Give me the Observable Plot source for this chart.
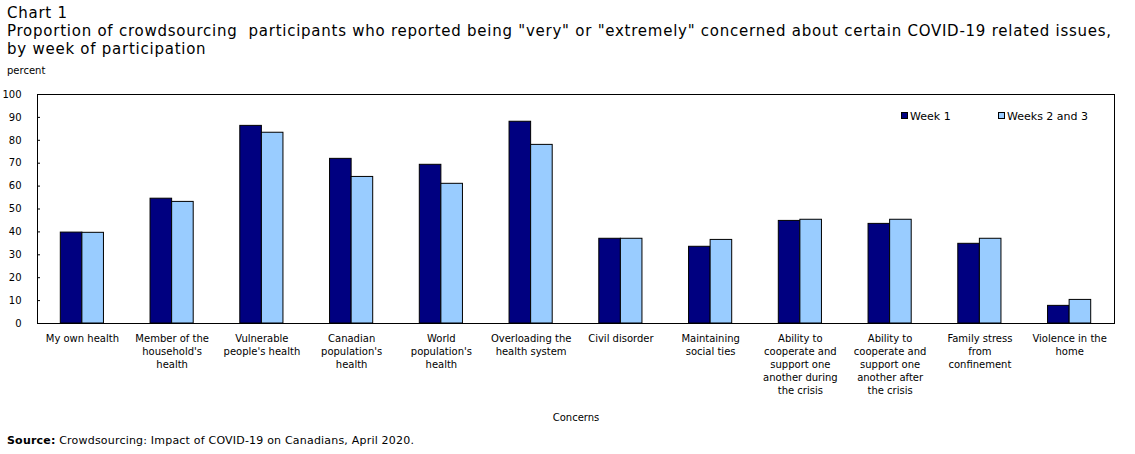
<!DOCTYPE html>
<html>
<head>
<meta charset="utf-8">
<script src="https://cdn.jsdelivr.net/npm/d3@7"></script>
<script src="https://cdn.jsdelivr.net/npm/@observablehq/plot@0.6"></script>
<style>
  body { margin: 0; background: #fff; font-family: "DejaVu Sans", Verdana, sans-serif; color: #000; }
  #wrap { position: relative; width: 1135px; height: 454px; overflow: hidden; }
  .title { position: absolute; left: 7px; top: 4px; font-size: 15px; letter-spacing: 0.75px; line-height: 18px; white-space: pre; }
  .unit { position: absolute; left: 7px; top: 65px; font-size: 10px; }
  #chart { position: absolute; left: 0; top: 80px; }
  .legend { position: absolute; top: 111px; font-size: 11px; line-height: 12px; white-space: nowrap; }
  .legend .sw { display: inline-block; width: 5px; height: 5px; border: 1px solid #000; margin-right: 2px; vertical-align: 1px; }
  .source { position: absolute; left: 7px; top: 434px; font-size: 11px; letter-spacing: 0.2px; }
</style>
</head>
<body>
<div id="wrap">
  <div class="title">Chart 1
Proportion of crowdsourcing  participants who reported being "very" or "extremely" concerned about certain COVID-19 related issues,
by week of participation</div>
  <div class="unit">percent</div>
  <div id="chart"></div>
  <div id="legend"></div>
  <div class="source"><b>Source:</b> Crowdsourcing: Impact of COVID-19 on Canadians, April 2020.</div>
</div>
<script>
// Concerns, in chart order, and their wrapped axis labels
const categories = [
  "My own health",
  "Member of the household's health",
  "Vulnerable people's health",
  "Canadian population's health",
  "World population's health",
  "Overloading the health system",
  "Civil disorder",
  "Maintaining social ties",
  "Ability to cooperate and support one another during the crisis",
  "Ability to cooperate and support one another after the crisis",
  "Family stress from confinement",
  "Violence in the home"
];
const categoryLabels = [
  "My own health",
  "Member of the\nhousehold's\nhealth",
  "Vulnerable\npeople's health",
  "Canadian\npopulation's\nhealth",
  "World\npopulation's\nhealth",
  "Overloading the\nhealth system",
  "Civil disorder",
  "Maintaining\nsocial ties",
  "Ability to\ncooperate and\nsupport one\nanother during\nthe crisis",
  "Ability to\ncooperate and\nsupport one\nanother after\nthe crisis",
  "Family stress\nfrom\nconfinement",
  "Violence in the\nhome"
];

// Share (%) reporting "very" or "extremely" concerned
const seriesNames = ["Week 1", "Weeks 2 and 3"];
const week1   = [39.7, 54.5, 86.3, 71.9, 69.3, 88.1, 37.0, 33.5, 44.8, 43.5, 34.8, 7.7];
const weeks23 = [39.6, 53.1, 83.3, 64.0, 61.0, 78.0, 37.0, 36.5, 45.3, 45.3, 37.0, 10.3];
const seriesColors = ["#000080", "#99ccff"];
const yTicks = [0, 10, 20, 30, 40, 50, 60, 70, 80, 90, 100];

const rows = categories.flatMap((category, i) => [
  {category, series: seriesNames[0], value: week1[i]},
  {category, series: seriesNames[1], value: weeks23[i]}
]);
const labelOf = new Map(categories.map((c, i) => [c, categoryLabels[i]]));

const chart = Plot.plot({
  width: 1135,
  height: 350,
  marginTop: 14,
  marginBottom: 107,
  marginLeft: 37,
  marginRight: 21,
  style: {fontFamily: "DejaVu Sans, Verdana, sans-serif", fontSize: "10px", color: "#000", background: "#fff", overflow: "visible"},
  fx: {domain: categories, paddingInner: 0, paddingOuter: 0, round: false},
  x: {domain: seriesNames, paddingInner: 0, paddingOuter: 1.08, round: false, axis: null},
  y: {domain: [0, 100]},
  color: {domain: seriesNames, range: seriesColors},
  marks: [
    Plot.barY(rows, {fx: "category", x: "series", y: "value", fill: "series", stroke: "#000", strokeWidth: 1, inset: 0}),
    Plot.frame({anchor: "top"}),
    Plot.frame({anchor: "bottom"}),
    Plot.frame({anchor: "left", facetAnchor: "left"}),
    Plot.frame({anchor: "right", facetAnchor: "right"}),
    Plot.axisY({ticks: yTicks, tickSize: -3, tickPadding: 19, label: null}),
    Plot.axisFx({
      anchor: "bottom", tickSize: 0, tickPadding: 9, lineHeight: 1.3,
      tickFormat: (c) => labelOf.get(c),
      label: "Concerns", labelAnchor: "center", labelOffset: 97, labelArrow: "none"
    })
  ]
});
document.getElementById("chart").appendChild(chart);

// Legend inside the plot area, top right
const legend = document.getElementById("legend");
const legendLeft = [901, 998];
seriesNames.forEach((name, i) => {
  const item = document.createElement("div");
  item.className = "legend";
  item.style.left = legendLeft[i] + "px";
  item.innerHTML = `<span class="sw" style="background:${seriesColors[i]}"></span>${name}`;
  legend.appendChild(item);
});
</script>
</body>
</html>
